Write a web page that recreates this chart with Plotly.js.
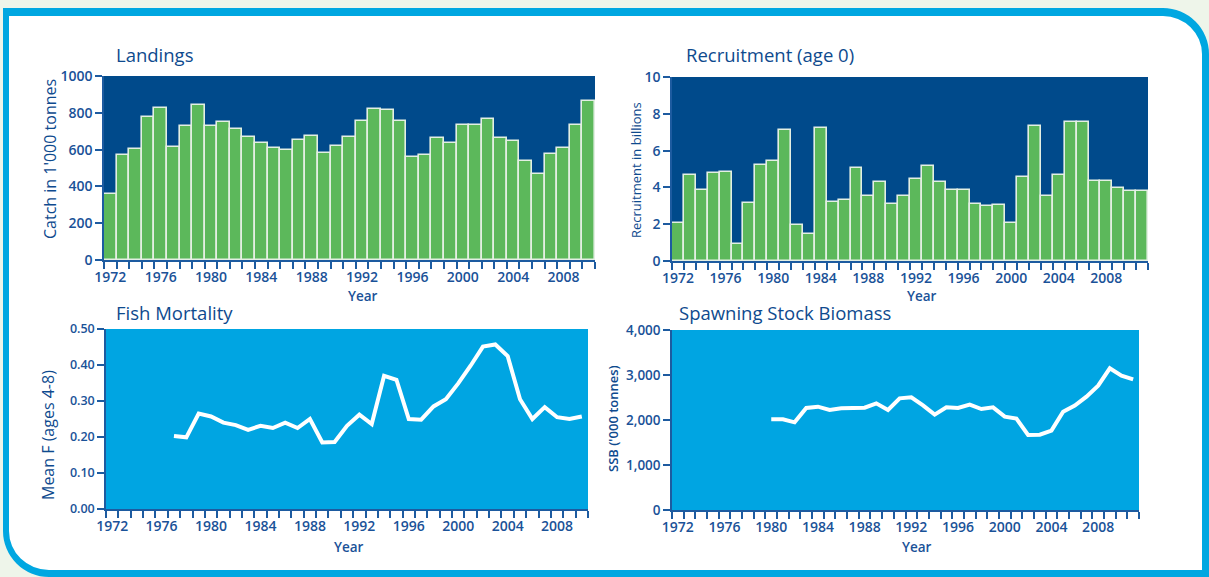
<!DOCTYPE html>
<html>
<head>
<meta charset="utf-8">
<script src="https://cdn.plot.ly/plotly-3.0.1.min.js"></script>
<style>
  html, body { margin: 0; padding: 0; background: #eef5ea; }
  #frame { position: absolute; left: 3px; top: 8px; width: 1206px; height: 569px; box-sizing: border-box;
           border-style: solid; border-color: #00a7e1; border-width: 8px 7px 7px 6px;
           border-radius: 0 46px 0 46px; background: #ffffff; }
  #chart { position: absolute; left: 0; top: 0; width: 1209px; height: 577px; }
</style>
</head>
<body>
<div id="frame"></div>
<div id="chart"></div>
<script>
// ---- Data ----
const allYears = [1972,1973,1974,1975,1976,1977,1978,1979,1980,1981,1982,1983,1984,1985,1986,1987,1988,1989,1990,1991,
                  1992,1993,1994,1995,1996,1997,1998,1999,2000,2001,2002,2003,2004,2005,2006,2007,2008,2009,2010,2011];
const tickYears = [1972,1976,1980,1984,1988,1992,1996,2000,2004,2008];

const landingsYears = allYears.slice(0, 39);      // 1972-2010
const landings = [358,568,604,778,826,615,731,841,731,750,
                  712,669,637,611,597,651,676,582,622,669,
                  756,821,814,754,561,568,664,638,734,732,
                  767,665,646,539,465,575,608,732,866];

const recruitYears = allYears.slice(0, 40);       // 1972-2011
const recruitment = [2.04,4.65,3.85,4.79,4.83,0.90,3.15,5.24,5.46,7.12,
                     1.97,1.48,7.25,3.22,3.33,5.03,3.53,4.30,3.08,3.55,
                     4.43,5.19,4.27,3.87,3.87,3.09,2.97,3.04,2.06,4.58,
                     7.32,3.54,4.68,7.54,7.58,4.34,4.34,3.98,3.83,3.83];

const fYears = allYears.slice(5, 39);             // 1977-2010
const meanF = [0.203,0.199,0.265,0.257,0.240,0.233,0.220,0.231,0.225,0.240,
               0.225,0.250,0.185,0.186,0.231,0.262,0.236,0.370,0.359,0.250,
               0.248,0.285,0.305,0.349,0.398,0.451,0.457,0.425,0.305,0.250,
               0.283,0.255,0.250,0.257];

const ssbYears = allYears.slice(8, 40);           // 1980-2011
const ssb = [2015,2015,1948,2267,2296,2222,2259,2259,2274,2370,
             2222,2481,2504,2326,2119,2281,2267,2341,2244,2281,
             2074,2030,1667,1674,1763,2185,2319,2519,2763,3148,
             2985,2904];

// ---- Styling ----
const W = 1209, H = 577;
const px = x => x / W;
const py = y => 1 - y / H;
const FONT = '"Open Sans", "Noto Sans", sans-serif';
const AX = '#1d5ba0';
const TXT = '#1a5298';
const TITLE = '#0e4a8e';
const NAVY = '#004a8b';
const SKY = '#00a5e2';
const GREEN = '#5cb85b';

function xAxis(domain, anchor, maxYear) {
  return {
    domain: domain, anchor: anchor, range: [1971.5, maxYear + 0.5],
    tickmode: 'array', tickvals: tickYears, ticktext: tickYears.map(String),
    ticks: 'outside', ticklen: 3, tickcolor: 'rgba(0,0,0,0)',
    minor: { tickmode: 'linear', tick0: 1971.5, dtick: 1, ticks: 'outside', ticklen: 7, tickwidth: 1.5, tickcolor: AX, showgrid: false },
    showline: true, linecolor: AX, linewidth: 1.5, showgrid: false, zeroline: false,
    tickfont: { family: FONT, size: 14, color: TXT, weight: 600 }, fixedrange: true
  };
}
function yAxis(domain, anchor, range, dtick, fmt, fsize) {
  return {
    domain: domain, anchor: anchor, range: range, dtick: dtick, tick0: 0, tickformat: fmt,
    ticks: 'outside', ticklen: 7, tickwidth: 1.5, tickcolor: AX,
    showline: true, linecolor: AX, linewidth: 1.5, showgrid: false, zeroline: false,
    tickfont: { family: FONT, size: fsize, color: TXT, weight: 600 }, fixedrange: true
  };
}

const traces = [
  { type: 'bar', x: landingsYears, y: landings, xaxis: 'x', yaxis: 'y',
    marker: { color: GREEN, line: { color: '#e3efe3', width: 1.6 } }, hoverinfo: 'x+y' },
  { type: 'bar', x: recruitYears, y: recruitment, xaxis: 'x2', yaxis: 'y2',
    marker: { color: GREEN, line: { color: '#e3efe3', width: 1.6 } }, hoverinfo: 'x+y' },
  { type: 'scatter', mode: 'lines', x: fYears, y: meanF, xaxis: 'x3', yaxis: 'y3',
    line: { color: '#ffffff', width: 4 }, hoverinfo: 'x+y' },
  { type: 'scatter', mode: 'lines', x: ssbYears, y: ssb, xaxis: 'x4', yaxis: 'y4',
    line: { color: '#ffffff', width: 4 }, hoverinfo: 'x+y' }
];

function ann(text, x, y, size, opts) {
  return Object.assign({ text: text, xref: 'paper', yref: 'paper', x: px(x), y: py(y),
    showarrow: false, xanchor: 'left', yanchor: 'middle',
    font: { family: FONT, size: size, color: TITLE } }, opts || {});
}
const yearFont = { family: FONT, size: 13.5, color: TXT, weight: 600 };

const layout = {
  width: W, height: H,
  margin: { l: 0, r: 0, t: 0, b: 0 },
  paper_bgcolor: 'rgba(0,0,0,0)',
  plot_bgcolor: 'rgba(0,0,0,0)',
  showlegend: false,
  bargap: 0,
  xaxis: xAxis([px(104), px(595)], 'y', 2010),
  yaxis: yAxis([py(260), py(76)], 'x', [0, 1000], 200, 'd', 14),
  xaxis2: xAxis([px(672), px(1148)], 'y2', 2011),
  yaxis2: yAxis([py(261), py(77)], 'x2', [0, 10], 2, 'd', 14),
  xaxis3: xAxis([px(106), px(588)], 'y3', 2010),
  yaxis3: yAxis([py(509), py(329)], 'x3', [0, 0.5], 0.1, '.2f', 12.5),
  xaxis4: xAxis([px(672), px(1139)], 'y4', 2011),
  yaxis4: yAxis([py(510), py(330)], 'x4', [0, 4000], 1000, ',', 13.5),
  shapes: [
    { type: 'rect', xref: 'paper', yref: 'paper', x0: px(104), x1: px(595), y0: py(260), y1: py(76), fillcolor: NAVY, line: { width: 0 }, layer: 'below' },
    { type: 'rect', xref: 'paper', yref: 'paper', x0: px(672), x1: px(1148), y0: py(261), y1: py(77), fillcolor: NAVY, line: { width: 0 }, layer: 'below' },
    { type: 'rect', xref: 'paper', yref: 'paper', x0: px(106), x1: px(588), y0: py(509), y1: py(329), fillcolor: SKY, line: { width: 0 }, layer: 'below' },
    { type: 'rect', xref: 'paper', yref: 'paper', x0: px(672), x1: px(1139), y0: py(510), y1: py(330), fillcolor: SKY, line: { width: 0 }, layer: 'below' }
  ],
  annotations: [
    ann('Landings', 114, 55, 18.5, { font: { family: FONT, size: 18.5, color: TITLE, weight: 500 } }),
    ann('Recruitment (age 0)', 684, 55, 18.5, { font: { family: FONT, size: 18.5, color: TITLE, weight: 500 } }),
    ann('Fish Mortality', 114, 312, 18.5, { font: { family: FONT, size: 18.5, color: TITLE, weight: 500 } }),
    ann('Spawning Stock Biomass', 677, 312, 18.5, { font: { family: FONT, size: 18.5, color: TITLE, weight: 500 } }),
    ann('Year', 363, 296, 13.5, { xanchor: 'center', font: yearFont }),
    ann('Year', 922, 296, 13.5, { xanchor: 'center', font: yearFont }),
    ann('Year', 349, 547, 13.5, { xanchor: 'center', font: yearFont }),
    ann('Year', 917, 547, 13.5, { xanchor: 'center', font: yearFont }),
    ann("Catch in 1'000 tonnes", 50, 159, 16, { xanchor: 'center', textangle: -90, font: { family: FONT, size: 16, color: TITLE, weight: 500 } }),
    ann('Recruitment in billions', 636, 170, 13, { xanchor: 'center', textangle: -90, font: { family: FONT, size: 13, color: TITLE, weight: 500 } }),
    ann('Mean F (ages 4-8)', 48, 435, 16, { xanchor: 'center', textangle: -90, font: { family: FONT, size: 16, color: TITLE, weight: 500 } }),
    ann("SSB ('000 tonnes)", 613, 419, 13, { xanchor: 'center', textangle: -90, font: { family: FONT, size: 13, color: TITLE, weight: 600 } })
  ]
};

Plotly.newPlot('chart', traces, layout, { displayModeBar: false });
</script>
</body>
</html>
